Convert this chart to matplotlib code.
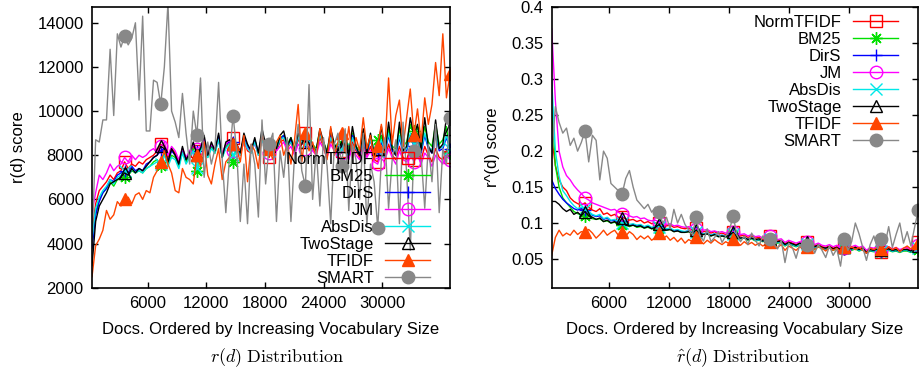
import numpy as np
import matplotlib
matplotlib.use("Agg")
import matplotlib.pyplot as plt

plt.rcParams['font.family'] = ['Liberation Sans', 'DejaVu Sans']
plt.rcParams['mathtext.fontset'] = 'cm'

# 100 bins of documents, sorted by vocabulary size
docs = np.arange(100) * 370 + 300

names = ['NormTFIDF', 'BM25', 'DirS', 'JM', 'AbsDis', 'TwoStage', 'TFIDF', 'SMART']

# ---- r(d) values (left panel) ----
r_norm = [4500, 5800, 6400, 6600, 6800, 7100, 6900, 7200, 7300, 7700,
          7400, 7600, 7500, 7700, 7600, 7800, 7900, 8000, 8200, 8500,
          8400, 7900, 8300, 8100, 7700, 8200, 7800, 8000, 8400, 8200,
          8300, 8600, 8000, 8400, 8200, 8700, 8000, 8400, 8500, 8800,
          8300, 8000, 8700, 8200, 8100, 8600, 8000, 8800, 8300, 7900,
          8500, 8200, 8600, 8700, 8300, 8600, 8100, 8700, 8500, 9000,
          8600, 8300, 8100, 8800, 8400, 8000, 8700, 8300, 8100, 8200,
          8500, 7900, 8600, 8200, 7900, 8500, 8000, 8400, 7800, 7700,
          8300, 7900, 8500, 8000, 7800, 8400, 7900, 7800, 8300, 7800,
          8200, 7800, 8400, 8000, 7700, 8300, 7900, 7800, 8200, 7900]
r_bm25 = [4000, 5400, 6000, 6300, 6500, 6800, 6600, 6900, 6900, 7000,
          7100, 7300, 7200, 7300, 7200, 7400, 7500, 7700, 7800, 7500,
          8100, 7600, 8000, 7900, 7500, 8200, 7700, 8000, 8300, 7300,
          8200, 8600, 7900, 8400, 8100, 8800, 7900, 8400, 8500, 7700,
          8400, 8100, 8800, 8400, 8200, 8700, 8100, 8900, 8400, 8300,
          8600, 8400, 8800, 8900, 8500, 8800, 8300, 8900, 8700, 8700,
          8800, 8500, 8300, 9100, 8600, 8200, 9000, 8500, 8300, 8500,
          8900, 8200, 9000, 8400, 8200, 9100, 8300, 8900, 8200, 8700,
          8900, 8300, 9200, 8400, 8300, 9200, 8400, 8600, 9400, 9100,
          9000, 8400, 9300, 8600, 8400, 9400, 8500, 8700, 9300, 8100]
r_dirs = [3800, 5300, 5900, 6300, 6500, 6900, 6800, 7100, 7200, 7300,
          7200, 7500, 7300, 7400, 7300, 7600, 7700, 7900, 8000, 8200,
          8300, 7700, 8200, 8000, 7600, 8300, 7800, 8100, 8500, 8200,
          8300, 8700, 8000, 8500, 8200, 8900, 8000, 8500, 8600, 8600,
          8400, 8100, 8800, 8400, 8200, 8700, 8100, 8900, 8400, 8300,
          8600, 8300, 8700, 8900, 8400, 8700, 8200, 8800, 8600, 8600,
          8700, 8400, 8200, 9000, 8500, 8100, 8900, 8400, 8200, 8400,
          8700, 8000, 8900, 8300, 8000, 8800, 8100, 8700, 8000, 8100,
          8600, 8100, 8900, 8200, 8000, 8800, 8100, 8200, 8900, 8400,
          8700, 8100, 8900, 8300, 8100, 8900, 8200, 8300, 8800, 8300]
r_jm = [5400, 6300, 7100, 6900, 7200, 7600, 7300, 7500, 7600, 7900,
        7700, 8000, 7800, 8000, 7900, 8000, 8200, 8300, 8100, 8400,
        8600, 8000, 8400, 8200, 7800, 8300, 7900, 8200, 8500, 8300,
        8400, 8700, 8100, 8500, 8300, 8600, 8100, 8500, 8700, 8200,
        8400, 8100, 8600, 8300, 8200, 8500, 8100, 8700, 8300, 8100,
        8500, 8200, 8400, 8600, 8200, 8400, 8000, 8500, 8300, 8300,
        8400, 8200, 8000, 8600, 8300, 7900, 8500, 8200, 8000, 8100,
        8300, 7800, 8400, 8000, 7800, 8300, 7900, 8200, 7700, 7600,
        8100, 7800, 8300, 7900, 7600, 8200, 7800, 7700, 8100, 7700,
        8000, 7600, 8100, 7900, 7500, 8000, 7800, 7600, 8000, 7800]
r_absdis = [4200, 5600, 6100, 6400, 6600, 6900, 6700, 7000, 7100, 7300,
            7100, 7400, 7200, 7300, 7200, 7400, 7500, 7600, 7700, 7600,
            8000, 7500, 7900, 7800, 7400, 8100, 7600, 7900, 8200, 7400,
            8200, 8500, 7900, 8300, 8100, 8700, 7900, 8300, 8500, 8000,
            8300, 8000, 8700, 8300, 8100, 8600, 8000, 8700, 8300, 8200,
            8500, 8300, 8700, 8800, 8400, 8600, 8200, 8800, 8600, 8500,
            8700, 8400, 8200, 8900, 8500, 8100, 8800, 8400, 8200, 8300,
            8700, 8100, 8800, 8300, 8100, 8900, 8200, 8700, 8100, 8200,
            8700, 8200, 9000, 8300, 8100, 8900, 8200, 8300, 9000, 8500,
            8800, 8200, 9000, 8400, 8200, 9000, 8300, 8400, 8900, 8300]
r_two = [3000, 5000, 5700, 6000, 6300, 6700, 6800, 6900, 7000, 7200,
         7100, 7400, 7200, 7400, 7300, 7500, 7700, 7900, 8000, 8400,
         8300, 7700, 8300, 8000, 7600, 8400, 7800, 8100, 8600, 8000,
         8300, 8900, 8000, 8600, 8200, 9000, 7900, 8600, 8700, 8500,
         8500, 8100, 9000, 8500, 8200, 8800, 8100, 9200, 8500, 8400,
         8700, 8300, 8900, 9100, 8400, 8800, 8200, 9000, 8700, 8600,
         8800, 8400, 8200, 9200, 8600, 8100, 9200, 8500, 8200, 8400,
         9000, 8000, 9300, 8400, 8000, 9200, 8100, 9000, 8000, 8300,
         9300, 8100, 9500, 8300, 8000, 9500, 8200, 8400, 9700, 8900,
         9400, 8200, 9700, 8400, 8100, 9600, 8300, 8500, 9700, 9200]
r_tfidf = [2500, 3900, 4200, 4600, 5500, 5100, 5300, 5900, 5700, 6000,
           6100, 5800, 6200, 6300, 6000, 6400, 6300, 7000, 7300, 7700,
           8200, 7600, 7200, 6400, 6300, 7400, 7000, 6900, 6700, 8000,
           7500, 8600, 7100, 6700, 7600, 8300, 6900, 7700, 7900, 8500,
           8300, 7700, 8900, 6800, 8500, 8200, 7400, 9000, 8100, 8300,
           7800, 8600, 8900, 8000, 8500, 7600, 8700, 10300, 7700, 9000,
           8200, 8600, 7900, 9200, 8400, 7800, 9300, 8000, 8600, 9000,
           8100, 9300, 7900, 8800, 8200, 9700, 8300, 8900, 7800, 8400,
           9400, 8300, 11500, 8500, 9800, 10500, 8400, 9700, 11000, 8900,
           10100, 8600, 10600, 9400, 10300, 12200, 10700, 13500, 10600, 11700]
r_smart = [4000, 8700, 8600, 9600, 9600, 12800, 9800, 13500, 12900, 13400,
           13000, 13300, 14000, 10500, 14300, 9100, 9100, 11400, 11300, 10300,
           12000, 14900, 10000, 9500, 8800, 10800, 9000, 7600, 10000, 8900,
           11500, 7000, 8600, 7600, 8300, 11300, 7800, 5400, 7900, 9800,
           8200, 5000, 7600, 4900, 8500, 7600, 5200, 9600, 6700, 8500,
           9000, 5000, 8200, 7000, 8800, 5000, 8000, 9400, 7300, 6600,
           11200, 6000, 8300, 5700, 8800, 7500, 4900, 8500, 9000, 7500,
           9200, 5500, 8500, 7800, 6000, 9000, 4800, 7600, 6800, 4700,
           7800, 8800, 5600, 7800, 8700, 4900, 9500, 7200, 3700, 8200,
           8600, 8000, 5600, 8500, 6800, 9400, 5400, 8300, 7600, 9700]

# ---- r^(d) values (right panel) ----
h_norm = [0.22, 0.18, 0.16, 0.15, 0.145, 0.135, 0.13, 0.127, 0.125, 0.128,
          0.122, 0.118, 0.116, 0.12, 0.112, 0.114, 0.11, 0.112, 0.108, 0.108,
          0.106, 0.104, 0.105, 0.102, 0.104, 0.1, 0.102, 0.099, 0.1, 0.1,
          0.097, 0.096, 0.097, 0.094, 0.095, 0.093, 0.092, 0.093, 0.09, 0.093,
          0.089, 0.088, 0.089, 0.086, 0.088, 0.085, 0.086, 0.084, 0.086, 0.088,
          0.083, 0.082, 0.083, 0.08, 0.082, 0.079, 0.08, 0.077, 0.079, 0.082,
          0.076, 0.075, 0.076, 0.071, 0.074, 0.072, 0.07, 0.072, 0.07, 0.074,
          0.072, 0.068, 0.07, 0.067, 0.066, 0.068, 0.065, 0.067, 0.064, 0.066,
          0.066, 0.065, 0.067, 0.064, 0.066, 0.06, 0.064, 0.063, 0.065, 0.06,
          0.063, 0.065, 0.062, 0.064, 0.061, 0.063, 0.064, 0.062, 0.066, 0.073]
h_bm25 = [0.26, 0.18, 0.15, 0.135, 0.128, 0.122, 0.116, 0.113, 0.112, 0.11,
          0.11, 0.106, 0.105, 0.106, 0.102, 0.103, 0.1, 0.101, 0.098, 0.097,
          0.098, 0.095, 0.097, 0.094, 0.095, 0.093, 0.094, 0.092, 0.093, 0.092,
          0.091, 0.09, 0.091, 0.088, 0.089, 0.087, 0.087, 0.088, 0.086, 0.086,
          0.085, 0.084, 0.085, 0.082, 0.084, 0.081, 0.082, 0.08, 0.082, 0.083,
          0.079, 0.078, 0.079, 0.076, 0.078, 0.075, 0.076, 0.074, 0.076, 0.075,
          0.073, 0.072, 0.073, 0.068, 0.071, 0.069, 0.067, 0.069, 0.067, 0.07,
          0.069, 0.065, 0.067, 0.064, 0.063, 0.065, 0.062, 0.064, 0.061, 0.064,
          0.063, 0.062, 0.064, 0.061, 0.063, 0.058, 0.061, 0.06, 0.062, 0.059,
          0.061, 0.062, 0.06, 0.061, 0.059, 0.061, 0.061, 0.059, 0.063, 0.062]
h_dirs = [0.16, 0.148, 0.14, 0.133, 0.128, 0.124, 0.12, 0.118, 0.12, 0.118,
          0.114, 0.111, 0.109, 0.11, 0.105, 0.107, 0.103, 0.104, 0.101, 0.103,
          0.099, 0.097, 0.098, 0.096, 0.097, 0.094, 0.096, 0.093, 0.095, 0.096,
          0.092, 0.091, 0.092, 0.089, 0.09, 0.088, 0.088, 0.089, 0.087, 0.088,
          0.086, 0.085, 0.086, 0.083, 0.085, 0.082, 0.083, 0.081, 0.083, 0.086,
          0.08, 0.079, 0.08, 0.077, 0.079, 0.076, 0.077, 0.075, 0.077, 0.077,
          0.074, 0.073, 0.074, 0.069, 0.072, 0.07, 0.068, 0.07, 0.068, 0.072,
          0.07, 0.066, 0.068, 0.065, 0.064, 0.066, 0.063, 0.065, 0.062, 0.064,
          0.064, 0.063, 0.065, 0.062, 0.064, 0.058, 0.062, 0.061, 0.063, 0.06,
          0.062, 0.063, 0.061, 0.062, 0.06, 0.062, 0.062, 0.06, 0.064, 0.066]
h_jm = [0.37, 0.27, 0.2, 0.178, 0.166, 0.16, 0.152, 0.146, 0.141, 0.135,
        0.132, 0.128, 0.126, 0.124, 0.122, 0.12, 0.118, 0.119, 0.115, 0.112,
        0.113, 0.11, 0.108, 0.109, 0.106, 0.107, 0.104, 0.103, 0.104, 0.101,
        0.1, 0.098, 0.099, 0.096, 0.097, 0.095, 0.094, 0.095, 0.093, 0.092,
        0.091, 0.09, 0.091, 0.088, 0.089, 0.087, 0.088, 0.086, 0.087, 0.088,
        0.085, 0.084, 0.085, 0.082, 0.084, 0.081, 0.082, 0.079, 0.081, 0.082,
        0.078, 0.077, 0.078, 0.073, 0.076, 0.074, 0.072, 0.074, 0.071, 0.073,
        0.074, 0.07, 0.072, 0.069, 0.068, 0.07, 0.067, 0.069, 0.066, 0.065,
        0.068, 0.067, 0.069, 0.066, 0.068, 0.062, 0.066, 0.065, 0.067, 0.062,
        0.065, 0.067, 0.064, 0.066, 0.063, 0.065, 0.066, 0.063, 0.067, 0.07]
h_absdis = [0.3, 0.2, 0.165, 0.145, 0.138, 0.13, 0.124, 0.12, 0.122, 0.12,
            0.116, 0.112, 0.11, 0.112, 0.106, 0.108, 0.104, 0.105, 0.102, 0.1,
            0.1, 0.098, 0.099, 0.097, 0.098, 0.095, 0.097, 0.094, 0.095, 0.095,
            0.093, 0.092, 0.093, 0.09, 0.091, 0.089, 0.088, 0.089, 0.087, 0.088,
            0.086, 0.085, 0.086, 0.083, 0.085, 0.082, 0.083, 0.081, 0.083, 0.085,
            0.08, 0.079, 0.08, 0.077, 0.079, 0.076, 0.077, 0.075, 0.077, 0.078,
            0.074, 0.073, 0.074, 0.069, 0.072, 0.07, 0.068, 0.07, 0.068, 0.071,
            0.07, 0.066, 0.068, 0.065, 0.064, 0.066, 0.063, 0.065, 0.062, 0.065,
            0.064, 0.063, 0.065, 0.062, 0.064, 0.059, 0.062, 0.061, 0.063, 0.061,
            0.062, 0.063, 0.061, 0.062, 0.06, 0.062, 0.062, 0.06, 0.064, 0.065]
h_two = [0.13, 0.13, 0.126, 0.12, 0.116, 0.119, 0.112, 0.115, 0.11, 0.116,
         0.11, 0.108, 0.105, 0.107, 0.102, 0.104, 0.1, 0.102, 0.098, 0.107,
         0.097, 0.096, 0.097, 0.095, 0.096, 0.093, 0.095, 0.092, 0.094, 0.098,
         0.091, 0.09, 0.091, 0.088, 0.089, 0.087, 0.087, 0.088, 0.086, 0.09,
         0.085, 0.084, 0.085, 0.082, 0.084, 0.081, 0.082, 0.081, 0.083, 0.087,
         0.08, 0.079, 0.08, 0.077, 0.079, 0.077, 0.078, 0.075, 0.077, 0.078,
         0.075, 0.074, 0.075, 0.07, 0.073, 0.071, 0.069, 0.072, 0.069, 0.073,
         0.071, 0.067, 0.069, 0.066, 0.065, 0.067, 0.064, 0.066, 0.063, 0.066,
         0.065, 0.064, 0.066, 0.063, 0.065, 0.059, 0.063, 0.062, 0.064, 0.063,
         0.063, 0.064, 0.062, 0.063, 0.061, 0.063, 0.063, 0.061, 0.065, 0.068]
h_tfidf = [0.055, 0.08, 0.09, 0.082, 0.086, 0.083, 0.09, 0.084, 0.088, 0.087,
           0.091, 0.086, 0.079, 0.084, 0.09, 0.083, 0.087, 0.09, 0.083, 0.087,
           0.082, 0.088, 0.084, 0.077, 0.082, 0.078, 0.082, 0.076, 0.08, 0.086,
           0.078, 0.082, 0.076, 0.08, 0.074, 0.079, 0.072, 0.077, 0.074, 0.08,
           0.075, 0.071, 0.076, 0.072, 0.077, 0.073, 0.07, 0.074, 0.071, 0.078,
           0.073, 0.069, 0.074, 0.07, 0.073, 0.069, 0.072, 0.068, 0.071, 0.074,
           0.069, 0.066, 0.07, 0.062, 0.068, 0.065, 0.062, 0.067, 0.064, 0.067,
           0.069, 0.063, 0.067, 0.065, 0.061, 0.066, 0.062, 0.065, 0.06, 0.066,
           0.064, 0.067, 0.063, 0.066, 0.062, 0.058, 0.065, 0.063, 0.066, 0.064,
           0.062, 0.067, 0.063, 0.066, 0.06, 0.065, 0.068, 0.064, 0.069, 0.072]
h_smart = [0.19, 0.262, 0.24, 0.225, 0.232, 0.208, 0.218, 0.2, 0.212, 0.228,
           0.185, 0.222, 0.215, 0.16, 0.2, 0.19, 0.155, 0.15, 0.145, 0.14,
           0.162, 0.173, 0.15, 0.132, 0.126, 0.12, 0.126, 0.115, 0.122, 0.115,
           0.1, 0.108, 0.092, 0.119, 0.1, 0.112, 0.098, 0.09, 0.084, 0.108,
           0.082, 0.075, 0.092, 0.074, 0.08, 0.088, 0.073, 0.082, 0.09, 0.11,
           0.084, 0.074, 0.082, 0.07, 0.086, 0.076, 0.068, 0.082, 0.074, 0.078,
           0.07, 0.064, 0.076, 0.045, 0.072, 0.066, 0.051, 0.07, 0.063, 0.069,
           0.076, 0.058, 0.07, 0.062, 0.052, 0.068, 0.055, 0.064, 0.04, 0.078,
           0.062, 0.074, 0.1, 0.085, 0.066, 0.048, 0.07, 0.082, 0.064, 0.078,
           0.07, 0.095, 0.066, 0.084, 0.1, 0.072, 0.088, 0.068, 0.094, 0.118]

r_series = [r_norm, r_bm25, r_dirs, r_jm, r_absdis, r_two, r_tfidf, r_smart]
h_series = [h_norm, h_bm25, h_dirs, h_jm, h_absdis, h_two, h_tfidf, h_smart]

# gnuplot-like line styles
colors = ['#ff0000', '#00e000', '#0000ff', '#ff00ff', '#00e8e8', '#000000', '#ff4500', '#888888']
markers = ['s', (8, 2, 0), '+', 'o', 'x', '^', '^', 'o']
filled = [False, False, False, False, False, False, True, True]

fig = plt.figure(figsize=(9.23, 3.76), dpi=100)
ax1 = fig.add_axes([0.0997, 0.2348, 0.3879, 0.7457])
ax2 = fig.add_axes([0.5977, 0.2348, 0.3972, 0.7457])

for ax, series in [(ax1, r_series), (ax2, h_series)]:
    for name, vals, c, m, f in zip(names, series, colors, markers, filled):
        ax.plot(docs, vals, color=c, lw=1.0, marker=m, ms=9, mew=1.0,
                markerfacecolor=c if f else 'none', markeredgecolor=c,
                markevery=(9, 10), label=name)
    ax.set_xlim(docs[0], docs[-1])
    ax.set_xticks([6000, 12000, 18000, 24000, 30000])
    ax.tick_params(direction='in', top=True, right=True, length=4, width=1,
                   labelsize=12, pad=6)
    for s in ax.spines.values():
        s.set_linewidth(1.2)
    ax.set_xlabel('Docs. Ordered by Increasing Vocabulary Size', fontsize=12, labelpad=8)

ax1.set_ylim(2000, 14700)
ax1.set_yticks(np.arange(2000, 14001, 2000))
ax1.set_ylabel('r(d) score', fontsize=12, labelpad=8)
ax1.legend(loc='lower right', bbox_to_anchor=(0.945, 0.005), frameon=False,
           markerfirst=False, fontsize=12, handlelength=2.7, handletextpad=0.7,
           labelspacing=0.12, borderpad=0, borderaxespad=0)

ax2.set_ylim(0.01, 0.4)
ax2.set_yticks([0.05, 0.1, 0.15, 0.2, 0.25, 0.3, 0.35, 0.4])
ax2.set_yticklabels(['0.05', '0.1', '0.15', '0.2', '0.25', '0.3', '0.35', '0.4'])
ax2.set_ylabel('r^(d) score', fontsize=12, labelpad=8)
ax2.legend(loc='upper right', bbox_to_anchor=(0.945, 0.974), frameon=False,
           markerfirst=False, fontsize=12, handlelength=2.7, handletextpad=0.7,
           labelspacing=0.12, borderpad=0, borderaxespad=0)

fig.text(0.301, 0.048, r'$r(d)\ \mathrm{Distribution}$', ha='center', va='center', fontsize=13)
fig.text(0.805, 0.048, r'$\hat{r}(d)\ \mathrm{Distribution}$', ha='center', va='center', fontsize=13)

fig.savefig('out.png', dpi=100)
